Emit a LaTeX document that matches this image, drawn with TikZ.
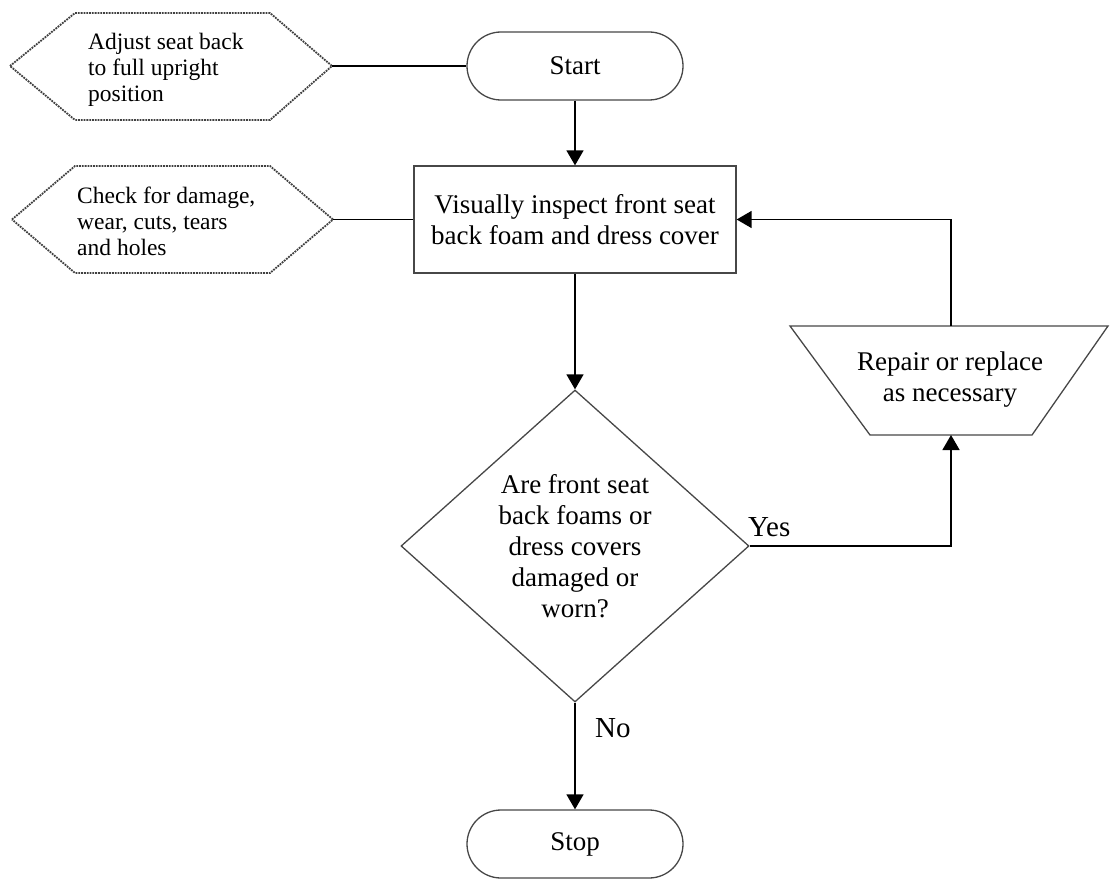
\documentclass[tikz,border=0pt]{standalone}
\usepackage{fontspec}
\setmainfont{Liberation Serif}
\usetikzlibrary{arrows.meta,shapes.geometric}
\begin{document}
\begin{tikzpicture}[x=1pt,y=-1pt,
  shapeline/.style={draw=black!72, line width=1.3pt},
  hexline/.style={draw=black!75, line width=1.8pt, densely dotted},
  conn/.style={draw=black, line width=1.4pt},
  arr/.style={conn, -{Triangle[length=15pt,width=17pt]}},
  maintext/.style={font=\fontsize{27}{31}\selectfont, align=center, inner sep=0pt},
  hextext/.style={font=\fontsize{23.5}{26}\selectfont, align=left, inner sep=0pt, anchor=west},
  lbl/.style={font=\fontsize{29}{34}\selectfont, inner sep=0pt, anchor=base west},
  term/.style={shapeline, rounded corners=34pt, minimum width=216pt, minimum height=68pt, maintext},
]
\useasboundingbox (0,0) rectangle (1110,880);

% side notes (hexagons)
\draw[hexline] (10,66) -- (75,13) -- (270,13) -- (332,66) -- (270,120) -- (75,120) -- cycle;
\coordinate (h1r) at (332,66);
\node[hextext] (h1) at (88,70) {Adjust seat back\\to full upright\\position};

\draw[hexline] (12,219.5) -- (75,166) -- (270,166) -- (333,219.5) -- (270,273) -- (75,273) -- cycle;
\coordinate (h2r) at (333,219.5);
\node[hextext] (h2) at (77,221) {Check for damage,\\wear, cuts, tears\\and holes};

% main flow
\node[term] (start) at (575,66) {Start};
\node[shapeline, maintext, minimum width=322pt, minimum height=107pt] (box) at (575,219.5) {Visually inspect front seat\\back foam and dress cover};
\node[diamond, shapeline, maintext, minimum width=348pt, minimum height=312pt] (dec) at (575,546) {Are front seat\\back foams or\\dress covers\\damaged or\\worn?};
\node[term] (stop) at (575,844) {Stop};

% repair trapezoid
\draw[shapeline] (790,326) -- (1108,326) -- (1032,435) -- (870,435) -- cycle;
\coordinate (rt) at (951,326);
\coordinate (rb) at (951,435);
\node[maintext] (rep) at (950,380) {Repair or replace\\as necessary};

% connectors
\draw[conn] (h1r) -- (start.west);
\draw[conn] (h2r) -- (box.west);
\draw[arr] (start.south) -- (box.north);
\draw[arr] (box.south) -- (dec.north);
\draw[arr] (dec.south) -- (stop.north);
\draw[arr] (dec.east) -| (rb);
\draw[arr] (rt) |- (box.east);

% labels
\node[lbl] (yes) at (748,536) {Yes};
\node[lbl] (no) at (595,737) {No};
\end{tikzpicture}
\end{document}
